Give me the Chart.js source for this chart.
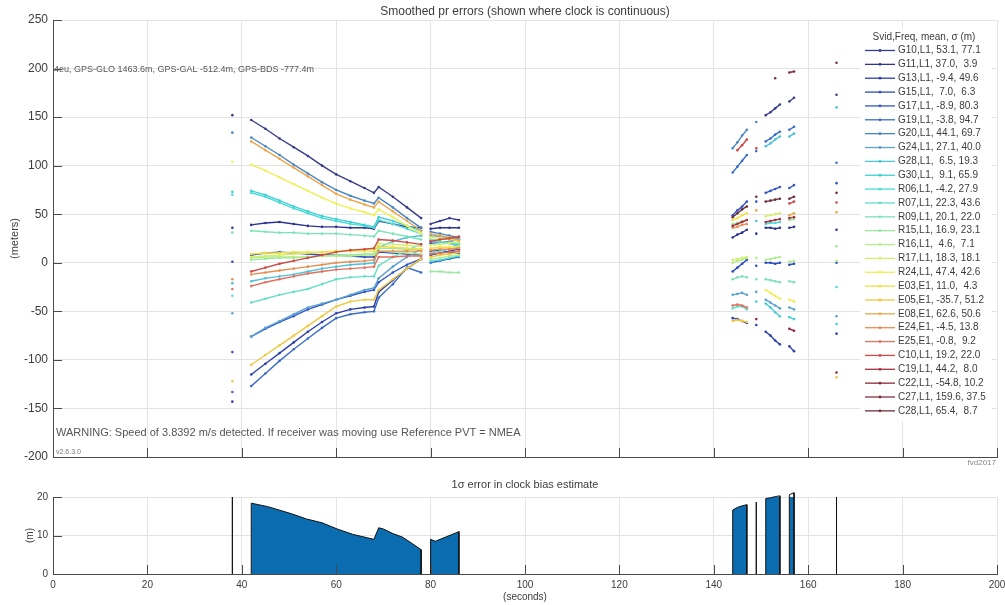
<!DOCTYPE html>
<html>
<head>
<meta charset="utf-8">
<script src="https://cdn.jsdelivr.net/npm/chart.js@4.4.1/dist/chart.umd.min.js"></script>
<style>
  body { margin: 0; background: #fff; }
  #wrap { position: relative; width: 1005px; height: 605px; }
  canvas { position: absolute; left: 0; }
  #errChart { top: 0; }
  #clkChart { top: 470px; }
</style>
</head>
<body>
<div id="wrap">
  <canvas id="errChart" width="1005" height="470"></canvas>
  <canvas id="clkChart" width="1005" height="135"></canvas>
</div>
<script>
const _ = null;

// sample times (s); lines break after these epochs (clock not continuous)
const tSec = [38, 42, 45, 48, 51, 54, 57, 60, 63, 66, 68, 69, 72, 75, 78, 80, 82, 84, 86,
              144, 145, 146, 147, 149, 151, 152, 153, 154, 156, 157, 166];
const breaksAfter = [38, 78, 86, 147, 149, 154, 157];

const svid = ['G10','G11','G13','G15','G17','G19','G20','G24','G28','G30',
              'R06','R07','R09','R15','R16','R17','R24',
              'E03','E05','E08','E24','E25',
              'C10','C19','C22','C27','C28'];
const freq = ['L1','L1','L1','L1','L1','L1','L1','L1','L1','L1',
              'L1','L1','L1','L1','L1','L1','L1',
              'E1','E1','E1','E1','E1',
              'L1','L1','L1','L1','L1'];
const meanErr = [53.1, 37.0, -9.4, 7.0, -8.9, -3.8, 44.1, 27.1, 6.5, 9.1,
                 -4.2, 22.3, 20.1, 16.9, 4.6, 18.3, 47.4,
                 11.0, -35.7, 62.6, -4.5, -0.8,
                 19.2, 44.2, -54.8, 159.6, 65.4];
const sigmaErr = [77.1, 3.9, 49.6, 6.3, 80.3, 94.7, 69.7, 40.0, 19.3, 65.9,
                  27.9, 43.6, 22.0, 23.1, 7.1, 18.1, 42.6,
                  4.3, 51.2, 50.6, 13.8, 9.2,
                  22.0, 8.0, 10.2, 37.5, 8.7];

// smoothed pseudorange errors (m), one row per svid, aligned with tSec
const prErr = [
  [152, 147,138,128,119,110,100,91,84,77,72,78,68,57,46, 40,43,46,44, _,_,_,_, _, 152,155,159,163, 166,170, 173],
  [36, 39,41,42,40,38,37,37,36,36,35,43,40,37,36, 35,36,36,36, 26,29,31,34, 30, 36,36,35,36, 36,37, 34],
  [-143, -115,-104,-93,-82,-71,-61,-52,-48,-46,-45,-30,-18,-6,4, 8,10,12,14, -57,-58,-60,-62, -64, -71,-75,-80,-84, -86,-91, -73],
  [1, 8,10,11,10,9,8,8,7,6,6,11,10,9,8, 12,13,11,10, -9,-5,-1,3, -3, 0,0,-1,0, -2,-1, 0],
  [-92, -76,-68,-61,-55,-48,-43,-38,-34,-30,-28,-20,-10,-2,4, 20,21,22,24, 49,54,58,63, 63, 72,74,76,78, 77,80, 82],
  [-133, -127,-114,-101,-89,-78,-67,-57,-53,-51,-50,-36,-22,-5,-10, 0,2,4,6, 93,99,105,111, 115, 125,128,132,135, 137,140, 103],
  [134, 129,120,111,101,92,83,75,69,64,61,67,57,46,36, 32,30,28,26, 118,124,131,137, 145, _,_,_,_, _,_, _],
  [-52, -76,-67,-60,-53,-46,-42,-38,-33,-28,-26,-16,-4,6,14, 28,27,26,25, -33,-32,-31,-33, -30, -38,-41,-44,-47, -46,-48, -55],
  [-21, -19,-16,-14,-12,-9,-6,-4,-2,-1,0,16,22,26,28, 24,22,20,17, _,_,_,_, 43, 120,123,127,130, 130,133, 160],
  [73, 74,70,64,58,53,48,45,42,39,37,47,43,38,33, 22,21,20,19, _,_,_,_, -40, -42,-46,-51,-55, -56,-58, -63],
  [70, 72,68,62,56,51,46,43,40,38,36,44,40,35,30, 2,3,5,7, _,_,_,_, _, 40,41,41,42, _,_, -25],
  [-34, -41,-37,-33,-30,-27,-22,-17,-15,-14,-14,-3,6,13,19, 10,12,14,16, -47,-45,-45,-48, _, _,_,_,_, _,_, _],
  [31, 33,32,31,31,30,30,30,29,28,27,33,30,27,24, 24,22,21,20, -17,-15,-14,-15, -17, -17,-18,-19,-20, -19,-20, _],
  [_, 3,4,5,5,6,7,8,8,9,9,15,15,14,14, -9,-9,-10,-10, 40,41,43,44, _, _,_,_,_, 44,45, 17],
  [_, 5,6,6,6,6,7,7,7,8,8,12,11,10,9, 4,5,7,8, 0,2,3,5, 5, 3,4,5,6, 1,2, 2],
  [_, 6,7,8,9,10,11,12,13,14,14,20,19,18,17, 18,19,20,22, 3,4,5,6, _, 48,49,50,51, _,_, _],
  [104, 101,95,88,81,74,67,61,56,52,49,55,47,38,30, 26,25,24,23, _,_,_,_, _, -28,-31,-34,-37, -38,-40, _],
  [_, 9,10,10,11,11,11,12,12,12,12,17,16,15,14, 15,16,16,17, 44,46,49,51, _, _,_,_,_, _,_, _],
  [-122, -105,-95,-85,-75,-65,-55,-45,-40,-38,-38,-28,-17,-6,4, 6,8,9,11, -60,-59,-60,-61, _, _,_,_,_, _,_, -118],
  [_, 125,116,107,98,89,80,71,65,60,57,63,53,43,33, 30,28,26,23, _,_,_,_, 54, _,_,_,_, 49,51, 52],
  [-17, -12,-10,-8,-6,-4,-2,0,1,2,3,12,12,12,12, 13,14,14,15, 36,37,39,40, _, _,_,_,_, _,_, _],
  [-27, -24,-20,-17,-14,-11,-9,-7,-6,-5,-4,6,6,7,7, 9,10,11,12, -44,-43,-44,-46, _, _,_,_,_, _,_, _],
  [_, -9,-5,-1,2,5,8,11,13,14,15,24,23,21,19, 22,24,25,27, _,116,121,127, 118, _,_,_,_, 61,63, 62],
  [_, _,_,_,_,_,_,_,_,_,_,_,_,_,_, _,_,_,_, 38,40,42,44, _, 42,43,44,45, 46,47, _],
  [_, _,_,_,_,_,_,_,_,_,_,_,_,_,_, _,_,_,_, _,_,_,_, -58, _,_,_,_, -68,-70, -113],
  [_, _,_,_,_,_,_,_,_,_,_,_,_,_,_, _,_,_,_, _,_,_,_, _, _,_,190,_, 196,197, 206],
  [_, _,_,_,_,_,_,_,_,_,_,_,_,_,_, _,_,_,_, 47,51,55,58, 68, 63,64,65,66, 66,68, 72]
];

// 1-sigma clock bias error (m)
const clkSec = [38, 42, 45.5, 50.4, 53.7, 57, 60.2, 63.5, 66.6, 68, 69, 70, 72, 74, 76, 78,
                80, 81, 86, 144, 145, 146, 147, 149, 151, 152, 153, 154, 156, 157, 166];
const clkSigma = [20, 18.4, 17.5, 15.7, 14.3, 13.3, 11.7, 10.3, 9.4, 9.0, 12.0, 11.7, 10.5, 9.6, 8.0, 6.3,
                  9.0, 8.5, 11.0, 16.6, 17.3, 17.7, 18.0, 18.7, 19.6, 19.8, 20.1, 20.3, 20.6, 21.1, 20.0];

const xTicks = [0, 20, 40, 60, 80, 100, 120, 140, 160, 180, 200];
const yTicksErr = [-200, -150, -100, -50, 0, 50, 100, 150, 200, 250];
const yTicksClk = [0, 10, 20];

const colors = ['#373c8c','#2c3592','#2e40ae','#2b4cbf','#3256c6','#3b6dc8','#4a86c2','#5aa2d2','#4cc2da','#3fcfd6',
                '#4adbd6','#62dfc6','#7ae3b8','#9ae89e','#b2ec8c','#d2f06e','#f0ef50',
                '#f4df40','#f0c83f','#eca64a','#e88e50','#e06f5e',
                '#d04848','#a83040','#902838','#803040','#6e3038'];

const FONT = '"Liberation Sans", Arial, sans-serif';
const TXT = '#3c3c3c';
const GRID = '#e4e4e4';
const AXIS = '#4a4a4a';

function withBreaks(times, vals) {
  const pts = [];
  times.forEach((t, i) => {
    pts.push({ x: t, y: vals[i] });
    if (breaksAfter.includes(t)) pts.push({ x: t, y: null });
  });
  return pts;
}

function areaPoints(times, vals) {
  const pts = [];
  let open = false;
  times.forEach((t, i) => {
    if (!open) { pts.push({ x: t, y: 0 }); open = true; }
    pts.push({ x: t, y: vals[i] });
    if (breaksAfter.includes(t) || i === times.length - 1) {
      pts.push({ x: t, y: 0 }, { x: t, y: null });
      open = false;
    }
  });
  return pts;
}

const fmt = v => v.toFixed(1).padStart(4, ' ');

const errSets = svid.map((s, i) => ({
  label: s + ',' + freq[i] + ', ' + fmt(meanErr[i]) + ', ' + fmt(sigmaErr[i]),
  data: withBreaks(tSec, prErr[i]),
  borderColor: colors[i],
  backgroundColor: colors[i],
  borderWidth: 1.4,
  pointRadius: 1.3,
  pointBorderWidth: 0,
  pointHoverRadius: 0,
  spanGaps: false,
  tension: 0,
  order: -i
}));

// inward tick marks, matlab style
const innerTicks = {
  id: 'innerTicks',
  afterDraw(chart) {
    const { ctx, chartArea: a, scales: { x, y } } = chart;
    ctx.save();
    ctx.strokeStyle = AXIS;
    ctx.lineWidth = 1;
    ctx.beginPath();
    x.ticks.forEach(t => {
      const px = Math.round(x.getPixelForValue(t.value)) + 0.5;
      ctx.moveTo(px, a.bottom); ctx.lineTo(px, a.bottom - 9);
    });
    y.ticks.forEach(t => {
      const py = Math.round(y.getPixelForValue(t.value)) + 0.5;
      ctx.moveTo(a.left, py); ctx.lineTo(a.left + 9, py);
    });
    ctx.stroke();
    ctx.restore();
  }
};

const errDecor = {
  id: 'errDecor',
  afterDatasetsDraw(chart) {
    const { ctx, chartArea: a } = chart;
    ctx.save();
    // legend
    ctx.fillStyle = '#fff';
    ctx.fillRect(860, 29, 132, 392);
    ctx.fillStyle = TXT;
    ctx.font = '10px ' + FONT;
    ctx.textAlign = 'center';
    ctx.textBaseline = 'middle';
    ctx.fillText('Svid,Freq, mean, σ (m)', 924, 37);
    ctx.textAlign = 'left';
    chart.data.datasets.forEach((ds, i) => {
      const y = 50.5 + i * 13.86;
      ctx.strokeStyle = ds.borderColor;
      ctx.lineWidth = 1.3;
      ctx.beginPath(); ctx.moveTo(865, y); ctx.lineTo(895, y); ctx.stroke();
      ctx.fillStyle = ds.borderColor;
      ctx.beginPath(); ctx.arc(880, y, 1.4, 0, Math.PI * 2); ctx.fill();
      ctx.fillStyle = TXT;
      ctx.fillText(ds.label.replace(/ /g, '\u00a0'), 898, y);
    });
    // notes inside the axes
    ctx.save();
    ctx.beginPath(); ctx.rect(a.left + 1, a.top, a.right - a.left, a.bottom - a.top); ctx.clip();
    ctx.fillStyle = '#555';
    ctx.font = '9px ' + FONT;
    ctx.fillText('4eu, GPS-GLO 1463.6m, GPS-GAL -512.4m, GPS-BDS -777.4m', 54, 70);
    ctx.font = '11px ' + FONT;
    ctx.fillText('WARNING: Speed of 3.8392 m/s detected. If receiver was moving use Reference PVT = NMEA', 56, 433);
    ctx.font = '7px ' + FONT;
    ctx.fillStyle = '#777';
    ctx.fillText('v2.6.3.0', 56, 452);
    ctx.restore();
    ctx.restore();
  },
  afterDraw(chart) {
    const { ctx, chartArea: a } = chart;
    ctx.save();
    ctx.fillStyle = TXT;
    ctx.textAlign = 'center';
    ctx.textBaseline = 'middle';
    ctx.font = '12px ' + FONT;
    ctx.fillText('Smoothed pr errors (shown where clock is continuous)', (a.left + a.right) / 2, 12);
    ctx.save();
    ctx.translate(15, (a.top + a.bottom) / 2);
    ctx.rotate(-Math.PI / 2);
    ctx.font = '11px ' + FONT;
    ctx.fillText('(meters)', 0, 0);
    ctx.restore();
    ctx.textAlign = 'right';
    ctx.font = '8px ' + FONT;
    ctx.fillStyle = '#888';
    ctx.fillText('fvd2017', 996, 463);
    ctx.restore();
  }
};

const clkDecor = {
  id: 'clkDecor',
  afterDraw(chart) {
    const { ctx, chartArea: a } = chart;
    ctx.save();
    ctx.fillStyle = TXT;
    ctx.textAlign = 'center';
    ctx.textBaseline = 'middle';
    ctx.font = '11px ' + FONT;
    ctx.fillText('1σ error in clock bias estimate', (a.left + a.right) / 2, 15);
    ctx.font = '10px ' + FONT;
    ctx.fillText('(seconds)', (a.left + a.right) / 2, 127);
    ctx.translate(30, (a.top + a.bottom) / 2);
    ctx.rotate(-Math.PI / 2);
    ctx.fillText('(m)', 0, 0);
    ctx.restore();
  }
};

function fixedTicks(list) {
  return scale => { scale.ticks = list.map(v => ({ value: v })); };
}

new Chart(document.getElementById('errChart'), {
  type: 'line',
  data: { datasets: errSets },
  options: {
    responsive: false,
    animation: false,
    devicePixelRatio: 1,
    layout: { padding: { top: 20, right: 8, bottom: 13, left: 0 } },
    plugins: { legend: { display: false }, tooltip: { enabled: false } },
    scales: {
      x: {
        type: 'linear', min: 0, max: 200,
        afterBuildTicks: fixedTicks(xTicks),
        ticks: { display: false },
        grid: { color: GRID, drawTicks: false },
        border: { color: AXIS },
        afterFit: s => { s.height = 0; s.paddingLeft = 0; s.paddingRight = 0; }
      },
      y: {
        min: -200, max: 250,
        afterBuildTicks: fixedTicks(yTicksErr),
        ticks: { color: TXT, font: { family: FONT, size: 12 }, padding: 5 },
        grid: { color: GRID, drawTicks: false },
        border: { color: AXIS },
        afterFit: s => { s.width = 53; s.paddingTop = 0; s.paddingBottom = 0; }
      }
    }
  },
  plugins: [innerTicks, errDecor]
});

new Chart(document.getElementById('clkChart'), {
  type: 'line',
  data: {
    datasets: [{
      data: areaPoints(clkSec, clkSigma),
      borderColor: '#111',
      borderWidth: 1,
      backgroundColor: '#0b6cb0',
      fill: 'origin',
      pointRadius: 0,
      spanGaps: false,
      tension: 0,
      clip: false
    }]
  },
  options: {
    responsive: false,
    animation: false,
    devicePixelRatio: 1,
    layout: { padding: { top: 27, right: 8, bottom: 0, left: 0 } },
    plugins: { legend: { display: false }, tooltip: { enabled: false } },
    scales: {
      x: {
        type: 'linear', min: 0, max: 200,
        afterBuildTicks: fixedTicks(xTicks),
        ticks: { color: TXT, font: { family: FONT, size: 10 }, padding: 5, maxRotation: 0 },
        grid: { color: GRID, drawTicks: false },
        border: { color: AXIS },
        afterFit: s => { s.height = 31; s.paddingLeft = 0; s.paddingRight = 0; }
      },
      y: {
        min: 0, max: 20,
        afterBuildTicks: fixedTicks(yTicksClk),
        ticks: { color: TXT, font: { family: FONT, size: 10 }, padding: 5 },
        grid: { color: GRID, drawTicks: false },
        border: { color: AXIS },
        afterFit: s => { s.width = 53; s.paddingTop = 0; s.paddingBottom = 0; }
      }
    }
  },
  plugins: [innerTicks, clkDecor]
});
</script>
</body>
</html>
